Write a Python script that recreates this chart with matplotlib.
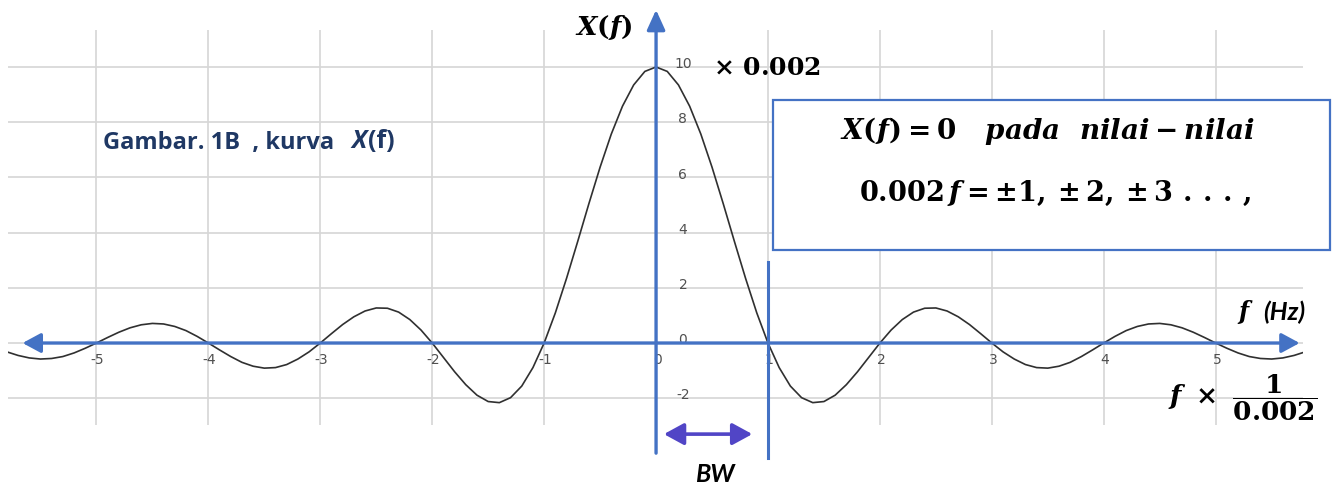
import matplotlib
matplotlib.use('Agg')
import matplotlib.pyplot as plt
import numpy as np
from matplotlib.patches import Rectangle

# Colors
axis_blue = '#4472c4'
bw_purple = '#5145c6'
grid_gray = '#d6d6d6'
curve_color = '#303030'
label_gray = '#505050'
navy = '#1f3864'

# X(f) sampled every 0.1 of the normalised frequency (0.002 f), from 0 up to 5.8;
# the curve is even, the negative side is the mirror of this one
f_step = 0.1
x_half = [10.0, 9.84, 9.35, 8.58, 7.57, 6.37, 5.05, 3.68, 2.34, 1.09,
          0.0, -0.89, -1.56, -1.98, -2.16, -2.12, -1.89, -1.51, -1.04, -0.52,
          0.0, 0.47, 0.85, 1.12, 1.26, 1.27, 1.16, 0.95, 0.67, 0.34,
          0.0, -0.32, -0.58, -0.78, -0.89, -0.91, -0.84, -0.70, -0.49, -0.25,
          0.0, 0.24, 0.45, 0.60, 0.69, 0.71, 0.66, 0.55, 0.39, 0.20,
          0.0, -0.19, -0.36, -0.49, -0.56, -0.58, -0.54, -0.45, -0.32]

x_ticks = [-5, -4, -3, -2, -1, 0, 1, 2, 3, 4, 5]
y_ticks = [-2, 0, 2, 4, 6, 8, 10]

f_half = np.arange(len(x_half)) * f_step
f = np.concatenate([-f_half[:0:-1], f_half])
xf = np.concatenate([np.array(x_half)[:0:-1], x_half])

plt.rcParams['mathtext.fontset'] = 'custom'
plt.rcParams['mathtext.rm'] = 'DejaVu Serif:bold'
plt.rcParams['mathtext.it'] = 'DejaVu Serif:italic:bold'
plt.rcParams['mathtext.bf'] = 'DejaVu Serif:bold'

W, H = 1338, 488
fig = plt.figure(figsize=(W / 100, H / 100), dpi=100)
fig.patch.set_facecolor('white')


def px(x, y):
    return x / W, 1 - y / H


ax = fig.add_axes([8 / W, 1 - 425 / H, 1295 / W, 395 / H])
ax.set_xlim(-5.79, 5.78)
ax.set_ylim(-2.97, 11.34)
for s in ax.spines.values():
    s.set_visible(False)
ax.set_xticks(x_ticks)
ax.set_yticks(y_ticks)
ax.tick_params(length=0, labelbottom=False, labelleft=False)
ax.grid(True, color=grid_gray, lw=1.2)

# tick labels sit on the blue axes, not on the frame
for v in x_ticks:
    ax.text(v + 0.01, -0.62, str(v), ha='center', va='center',
            fontsize=10, color=label_gray)
for v in y_ticks:
    ax.text(0.24, v + 0.1, str(v), ha='center', va='center',
            fontsize=10, color=label_gray)

ax.plot(f, xf, color=curve_color, lw=1.2, zorder=3)

# blue axes with arrow heads
head = '<|-|>,head_length=0.5,head_width=0.27'
ax.annotate('', xy=(-5.66, 0), xytext=(5.75, 0), annotation_clip=False,
            arrowprops=dict(arrowstyle=head, color=axis_blue, lw=2.4,
                            mutation_scale=22, shrinkA=0, shrinkB=0), zorder=4)
ax.annotate('', xy=(0, 12.07), xytext=(0, -3.99), annotation_clip=False,
            arrowprops=dict(arrowstyle='-|>,head_length=0.55,head_width=0.25',
                            color=axis_blue, lw=2.4, mutation_scale=22,
                            shrinkA=0, shrinkB=0), zorder=4)
ax.plot([1, 1], [2.93, -4.17], color=axis_blue, lw=2.2, clip_on=False, zorder=4)

# bandwidth marker
ax.annotate('', xy=(0.07, -3.30), xytext=(0.86, -3.30), annotation_clip=False,
            arrowprops=dict(arrowstyle='<|-|>,head_length=0.55,head_width=0.3',
                            color=bw_purple, lw=2.6, mutation_scale=22,
                            shrinkA=0, shrinkB=0), zorder=4)

fig.text(*px(604, 28), r'$X(f)$', ha='center', va='center', fontsize=19)
fig.text(*px(713, 68), r'$\times\ 0.002$', ha='left', va='center', fontsize=18)

fig.text(*px(103, 143), 'Gambar. 1B  , kurva', ha='left', va='center',
         family='Open Sans', weight='bold', fontsize=17, color=navy)
fig.text(*px(351, 142), 'X', ha='left', va='center', family='Open Sans',
         weight='bold', style='italic', fontsize=18, color=navy)
fig.text(*px(368, 142), '(f)', ha='left', va='center', family='Open Sans',
         weight='bold', fontsize=18, color=navy)

box = Rectangle(px(773, 250), (1330 - 773) / W, 150 / H, transform=fig.transFigure,
                facecolor='white', edgecolor=axis_blue, lw=1.6, zorder=2)
fig.add_artist(box)
fig.text(*px(1047, 131), r'$X(f) = 0\ \ \ pada\ \ nilai - nilai$', ha='center',
         va='center', fontsize=20, zorder=3)
fig.text(*px(1055, 193), r'$0.002\,f = \pm1,\pm2,\pm3\ .\,.\,.\,,$',
         ha='center', va='center', fontsize=19.5, zorder=3)

fig.text(*px(1245, 312), r'$f$', ha='center', va='center', fontsize=17)
fig.text(*px(1263, 312), '(Hz)', ha='left', va='center', family='Lato',
         weight='bold', style='italic', fontsize=18)
fig.text(*px(1243, 398), r'$f\ \times\ \dfrac{1}{0.002}$', ha='center',
         va='center', fontsize=19)

fig.text(*px(715, 475), 'BW', ha='center', va='center', family='Lato',
         weight='bold', style='italic', fontsize=18)

fig.savefig('out.png', dpi=100, facecolor='white')
